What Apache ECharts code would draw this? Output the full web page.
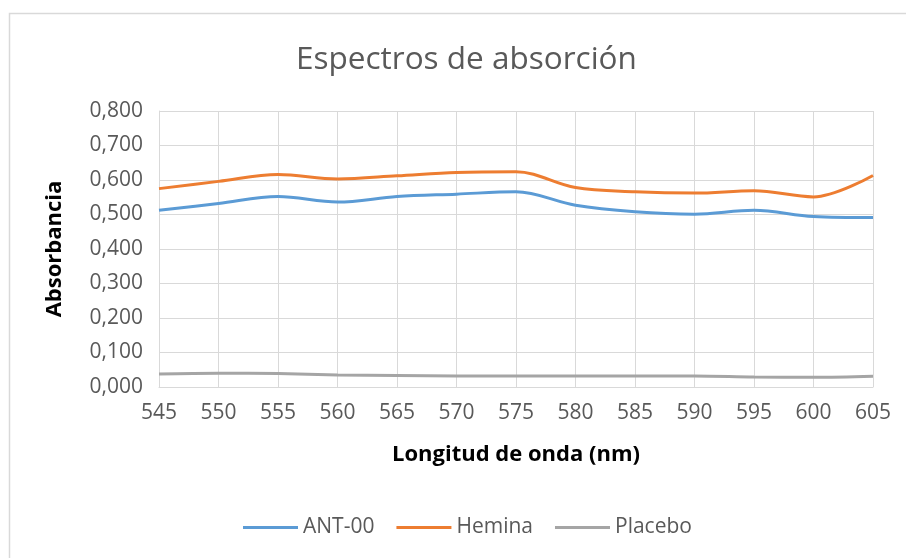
<!DOCTYPE html>
<html>
<head>
<meta charset="utf-8">
<script src="https://cdn.jsdelivr.net/npm/echarts@6/dist/echarts.min.js"></script>
<style>html,body{margin:0;padding:0;background:#fff}#c{width:906px;height:558px}</style>
</head>
<body>
<div id="c"></div>
<script>
var categories = ['545','550','555','560','565','570','575','580','585','590','595','600','605'];
var ant00 = [0.512,0.532,0.552,0.536,0.552,0.559,0.566,0.527,0.508,0.501,0.512,0.494,0.491];
var hemina = [0.575,0.596,0.616,0.603,0.612,0.622,0.624,0.578,0.566,0.562,0.569,0.551,0.613];
var placebo = [0.038,0.040,0.039,0.035,0.033,0.032,0.032,0.032,0.032,0.032,0.029,0.028,0.031];

var font = "'Open Sans', 'Noto Sans', sans-serif";
var txt = '#595959';
var chart = echarts.init(document.getElementById('c'), null, {renderer:'canvas'});
chart.setOption({
  animation: false,
  backgroundColor: '#fff',
  graphic: [{type:'rect', left:7, top:11, shape:{width:960, height:620}, style:{fill:'none', stroke:'#d9d9d9', lineWidth:1.5}, silent:true}],
  title: {text:'Espectros de absorción', left:291, top:39, textStyle:{fontFamily:font, fontSize:31.5, fontWeight:'normal', color:txt}},
  grid: {left:159, right:33, top:111, bottom:171, containLabel:false},
  legend: {bottom:15, left:238, itemWidth:55, itemHeight:14, itemGap:22, icon:'path://M0,6 L55,6 L55,9 L0,9 Z',
    textStyle:{fontFamily:font, fontSize:21, color:txt}, data:['ANT-00','Hemina','Placebo']},
  xAxis: {type:'category', data:categories, boundaryGap:false,
    name:'Longitud de onda (nm)', nameLocation:'middle', nameGap:57,
    nameTextStyle:{fontFamily:font, fontSize:22, fontWeight:'bold', color:'#000'},
    axisLine:{lineStyle:{color:'#d9d9d9'}}, axisTick:{show:false},
    axisLabel:{fontFamily:font, fontSize:21, color:txt, margin:16},
    splitLine:{show:true, lineStyle:{color:'#d9d9d9', width:1}}},
  yAxis: {type:'value', min:0, max:0.8, interval:0.1,
    name:'Absorbancia', nameLocation:'middle', nameGap:93, nameRotate:90,
    nameTextStyle:{fontFamily:font, fontSize:22, fontWeight:'bold', color:'#000'},
    axisLine:{show:true, lineStyle:{color:'#d9d9d9'}}, axisTick:{show:false},
    axisLabel:{fontFamily:font, fontSize:21, color:txt, margin:16, formatter:function(v){return v.toFixed(3).replace('.',',');}},
    splitLine:{show:true, lineStyle:{color:'#d9d9d9', width:1}}},
  series: [
    {name:'ANT-00', type:'line', data:ant00, smooth:0.35, symbol:'none', lineStyle:{color:'#5b9bd5', width:3}, itemStyle:{color:'#5b9bd5'}},
    {name:'Hemina', type:'line', data:hemina, smooth:0.35, symbol:'none', lineStyle:{color:'#ed7d31', width:3}, itemStyle:{color:'#ed7d31'}},
    {name:'Placebo', type:'line', data:placebo, smooth:0.35, symbol:'none', lineStyle:{color:'#a5a5a5', width:3}, itemStyle:{color:'#a5a5a5'}}
  ]
});
</script>
</body>
</html>
